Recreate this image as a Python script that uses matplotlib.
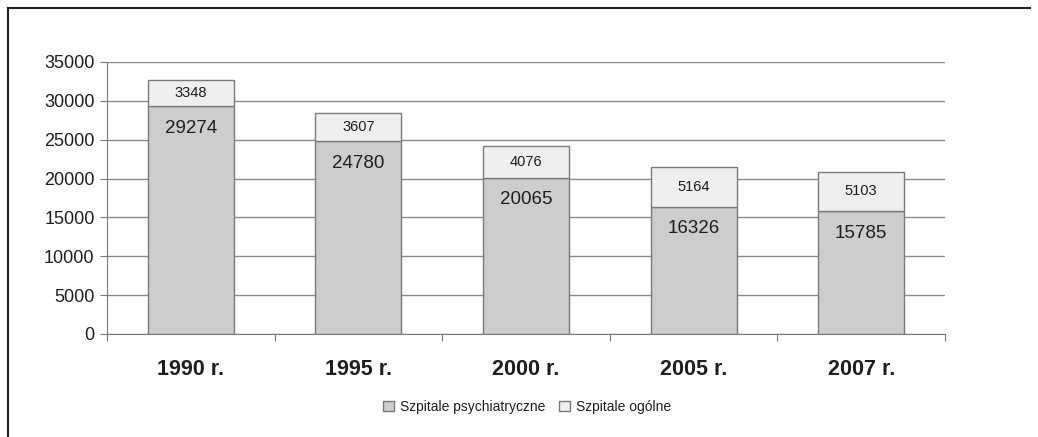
import matplotlib.pyplot as plt
from matplotlib.lines import Line2D
from matplotlib.patches import Patch

plt.rcParams['font.family'] = ['Liberation Sans', 'DejaVu Sans']

# data
years = ['1990 r.', '1995 r.', '2000 r.', '2005 r.', '2007 r.']
psych = [29274, 24780, 20065, 16326, 15785]
general = [3348, 3607, 4076, 5164, 5103]

c_psych = '#cdcdcf'
c_gen = '#efefef'
edge = '#7a7a7a'
txt = '#1e1e1e'

fig = plt.figure(figsize=(10.38, 4.37), dpi=100)
ax = fig.add_axes([107/1038, 1 - 334/437, (945 - 107)/1038, 272/437])

x = list(range(len(years)))
w = 0.513
ax.bar(x, psych, w, color=c_psych, edgecolor=edge, linewidth=1.0, zorder=3,
       label='Szpitale psychiatryczne')
ax.bar(x, general, w, bottom=psych, color=c_gen, edgecolor=edge, linewidth=1.0,
       zorder=3, label='Szpitale ogólne')

for i in x:
    ax.text(i, psych[i] - 2800, str(psych[i]), ha='center', va='center',
            fontsize=13.5, color=txt, zorder=4)
    ax.text(i, psych[i] + general[i] / 2, str(general[i]), ha='center',
            va='center', fontsize=10.5, color=txt, zorder=4)

ax.set_xlim(-0.5, len(years) - 0.5)
ax.set_ylim(0, 35000)
ax.set_yticks(range(0, 35001, 5000))
ax.tick_params(axis='y', labelsize=13, colors=txt, length=5, color=edge, pad=4)
ax.grid(axis='y', color='#8a8a8a', linewidth=1.0, zorder=0)
ax.set_axisbelow(True)

ax.set_xticks([i - 0.5 for i in range(len(years) + 1)])
ax.set_xticklabels([])
ax.set_xticks(x, minor=True)
ax.set_xticklabels(years, minor=True, fontsize=15.5, fontweight='bold', color=txt)
ax.tick_params(axis='x', which='major', length=5, color=edge)
ax.tick_params(axis='x', which='minor', length=0, pad=18)

for s in ['top', 'right']:
    ax.spines[s].set_visible(False)
for s in ['left', 'bottom']:
    ax.spines[s].set_color(edge)

handles = [Patch(facecolor=c_psych, edgecolor=edge, label='Szpitale psychiatryczne'),
           Patch(facecolor=c_gen, edgecolor=edge, label='Szpitale ogólne')]
fig.legend(handles=handles, loc='center', bbox_to_anchor=(527/1038, 1 - 407/437),
           ncol=2, frameon=False, fontsize=10, handlelength=0.8, handleheight=0.8,
           handletextpad=0.4, columnspacing=1.0, labelcolor=txt)

# frame around the figure (top and left edges visible)
fig.add_artist(Line2D([8/1038, 1030/1038], [1 - 8/437, 1 - 8/437],
                      transform=fig.transFigure, color='#222222', linewidth=1.5))
fig.add_artist(Line2D([8/1038, 8/1038], [1 - 8/437, 0],
                      transform=fig.transFigure, color='#222222', linewidth=1.5))

fig.savefig('out.png', dpi=100)
